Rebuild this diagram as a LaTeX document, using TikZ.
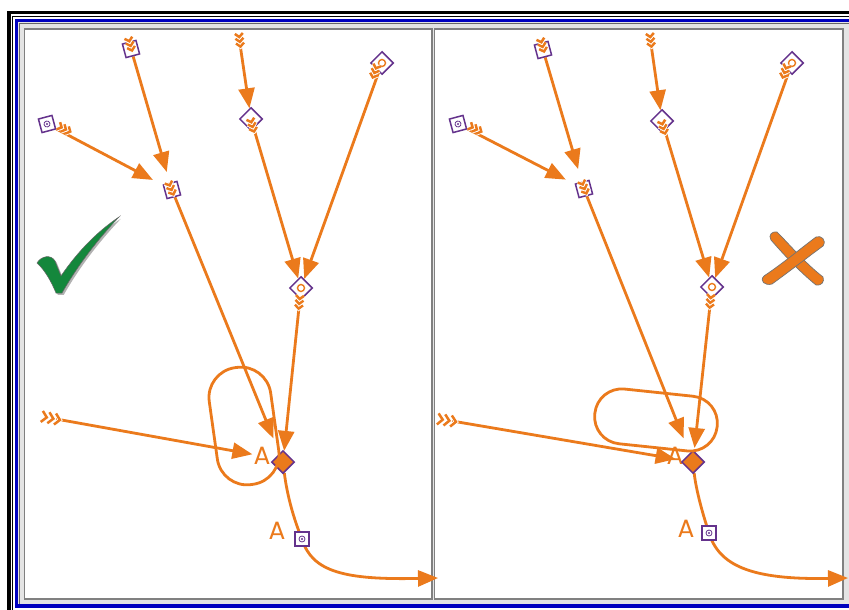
\documentclass[tikz,border=0pt]{standalone}
\usepackage{fontspec}
\newfontfamily\lblfont{Poppins}
\usetikzlibrary{arrows.meta,shapes.geometric}
\definecolor{orng}{RGB}{235,122,28}
\definecolor{purp}{RGB}{100,50,140}
\definecolor{chk}{RGB}{20,135,60}
\definecolor{frblue}{RGB}{0,0,190}
\definecolor{panelbg}{RGB}{228,228,228}
\pgfdeclarelayer{bg}
\pgfsetlayers{bg,main}
\tikzset{
  arr/.style={draw=orng, line width=2.8pt, -{Triangle[length=20pt,width=16pt]}},
  sq/.style={rectangle, draw=purp, fill=white, line width=1.5pt, minimum size=14pt, inner sep=0pt},
  dm/.style={diamond, draw=purp, fill=white, line width=1.5pt, minimum size=23pt, inner sep=0pt},
  ring/.style={path picture={\draw[orng, line width=1.4pt] (path picture bounding box.center) circle (3.5pt);}},
  pdot/.style={path picture={\draw[purp, line width=0.8pt] (path picture bounding box.center) circle (3pt);
      \fill[purp] (path picture bounding box.center) circle (1.1pt);}},
  lbl/.style={text=orng, font=\lblfont\fontsize{25}{25}\selectfont, inner sep=0pt},
  stadium/.style={draw=orng, line width=2.8pt, rectangle, inner sep=0pt},
  fletch/.pic={
    \foreach \k in {0,4.8,9.6}{
      \draw[white, line width=4.2pt] (-4,-\k) -- (0,-\k+3.6) -- (4,-\k);
      \draw[orng, line width=2.5pt] (-4,-\k) -- (0,-\k+3.6) -- (4,-\k);
    }
  }
}
\begin{document}
\begin{tikzpicture}[x=1pt,y=-1pt]
\useasboundingbox (0,0) rectangle (849,610);
% ---------- frame ----------
\begin{pgfonlayer}{bg}
\fill[white] (0,0) rectangle (849,610);
\fill[black] (7,11) rectangle (849,14.5);
\fill[black] (7,11) rectangle (11,610);
\draw[black, line width=1pt] (12.5,610) -- (12.5,16.3) -- (849,16.3);
\fill[frblue] (14.5,19) rectangle (849,607.5);
\fill[panelbg] (18,22.5) rectangle (849,604);
\draw[gray!80!black, line width=1pt] (19.5,603.5) -- (19.5,23.5) -- (849,23.5);
\draw[gray, line width=1.3pt, fill=white] (24.5,29) rectangle (432,599);
\draw[gray, line width=1.3pt, fill=white] (434.5,29) rectangle (843,599);
\end{pgfonlayer}

% ---------- left panel nodes ----------
\node[sq, rotate=15] (l1) at (131,49) {};
\node[sq, pdot, rotate=15] (l2) at (47,124) {};
\node[sq, rotate=15] (l3) at (172,190) {};
\coordinate (l4s) at (240,44);
\node[dm] (l4) at (251,119) {};
\node[dm, ring] (l5) at (382,63) {};
\node[dm, ring] (l6) at (301,288) {};
\node[dm, fill=orng] (lf) at (283,462) {};
\node[lbl] (lfa) at (262,456) {A};
\coordinate (lin) at (56,419);
\node[sq, pdot] (la) at (302,539) {};
\node[lbl] (laa) at (277,531) {A};
\coordinate (lend) at (438,578);
\node[stadium, minimum width=62pt, minimum height=118pt, rounded corners=30pt, rotate=8] (lst) at (244,426) {};

% ---------- right panel nodes ----------
\node[sq, rotate=15] (r1) at (543,50) {};
\node[sq, pdot, rotate=15] (r2) at (458,124) {};
\node[sq, rotate=15] (r3) at (584,189) {};
\coordinate (r4s) at (651,44);
\node[dm] (r4) at (662,121) {};
\node[dm, ring] (r5) at (792,63) {};
\node[dm, ring] (r6) at (712,287) {};
\node[lbl] (rfa) at (675,456) {A};
\node[dm, fill=orng] (rf) at (693,462) {};
\coordinate (rin) at (452,421);
\node[sq, pdot] (ra) at (709,533) {};
\node[lbl] (raa) at (686,529) {A};
\coordinate (rend) at (848,578);
\node[stadium, minimum width=123pt, minimum height=55pt, rounded corners=27pt, rotate=-6] (rst) at (656,420) {};

% ---------- connectors ----------
\begin{pgfonlayer}{bg}
\draw[arr, shorten >=11pt] (l1) -- (l3);
\draw[arr, shorten >=11pt] (l2) -- (l3);
\draw[arr] (l4s) -- (l4);
\draw[arr] (l4) -- (l6);
\draw[arr] (l5) -- (l6);
\draw[arr, shorten >=16pt] (l3) -- (lf);
\draw[arr] (l6) -- (lf);
\draw[arr, shorten >=1pt] (lin) -- (lfa);
\draw[arr] (lf) .. controls (287,495) and (294,520) .. (la.center)
               .. controls (312,572) and (345,580) .. (lend);

\draw[arr, shorten >=13pt] (r1) -- (r3);
\draw[arr, shorten >=10pt] (r2) -- (r3);
\draw[arr] (r4s) -- (r4);
\draw[arr] (r4) -- (r6);
\draw[arr] (r5) -- (r6);
\draw[arr, shorten >=16pt] (r3) -- (rf);
\draw[arr, shorten >=3pt] (r6) -- (rf);
\draw[arr, shorten >=7pt] (rin) -- (rf);
\draw[arr] (rf) .. controls (696,490) and (703,515) .. (ra.center)
               .. controls (719,565) and (750,580) .. (rend);
\end{pgfonlayer}

% ---------- fletchings ----------
\pic[rotate=16] at (131,47) {fletch};
\pic[rotate=64] at (67,130) {fletch};
\pic[rotate=22] at (172,191) {fletch};
\pic[rotate=7] at (240,43) {fletch};
\pic[rotate=16] at (253,128) {fletch};
\pic[rotate=-19] at (374,74) {fletch};
\pic[rotate=-6] at (299,305) {fletch};
\pic[rotate=79, scale=1.4] at (55,419) {fletch};

\pic[rotate=16] at (543,48) {fletch};
\pic[rotate=64] at (478,130) {fletch};
\pic[rotate=22] at (585,190) {fletch};
\pic[rotate=7] at (651,43) {fletch};
\pic[rotate=16] at (664,130) {fletch};
\pic[rotate=-19] at (784,74) {fletch};
\pic[rotate=-6] at (710,304) {fletch};
\pic[rotate=81, scale=1.4] at (451,421) {fletch};

% ---------- check mark ----------
\fill[gray!60, shift={(1.8,1.8)}] (37,263) .. controls (41,256) and (51,254) .. (55,261) -- (61,276)
   .. controls (78,251) and (98,231) .. (119,217) .. controls (100,237) and (79,263) .. (62,293)
   -- (56,293) .. controls (52,283) and (45,270) .. cycle;
\fill[chk, draw=black!60, line width=0.5pt] (37,263) .. controls (41,256) and (51,254) .. (55,261) -- (61,276)
   .. controls (78,251) and (98,231) .. (119,217) .. controls (100,237) and (79,263) .. (62,293)
   -- (56,293) .. controls (52,283) and (45,270) .. cycle;

% ---------- cross mark ----------
\fill[orng, draw=black!55, line width=0.7pt] (771,240) .. controls (768,235) and (772,231) .. (777,232)
   .. controls (790,245) and (805,263) .. (823,277) .. controls (825,282) and (821,286) .. (816,285)
   .. controls (800,272) and (785,256) .. cycle;
\fill[orng, draw=black!55, line width=0.7pt] (816,237) .. controls (800,249) and (782,264) .. (764,276)
   .. controls (759,281) and (765,286) .. (772,284) .. controls (790,271) and (808,257) .. (823,246)
   .. controls (827,240) and (821,235) .. cycle;
\end{tikzpicture}
\end{document}
